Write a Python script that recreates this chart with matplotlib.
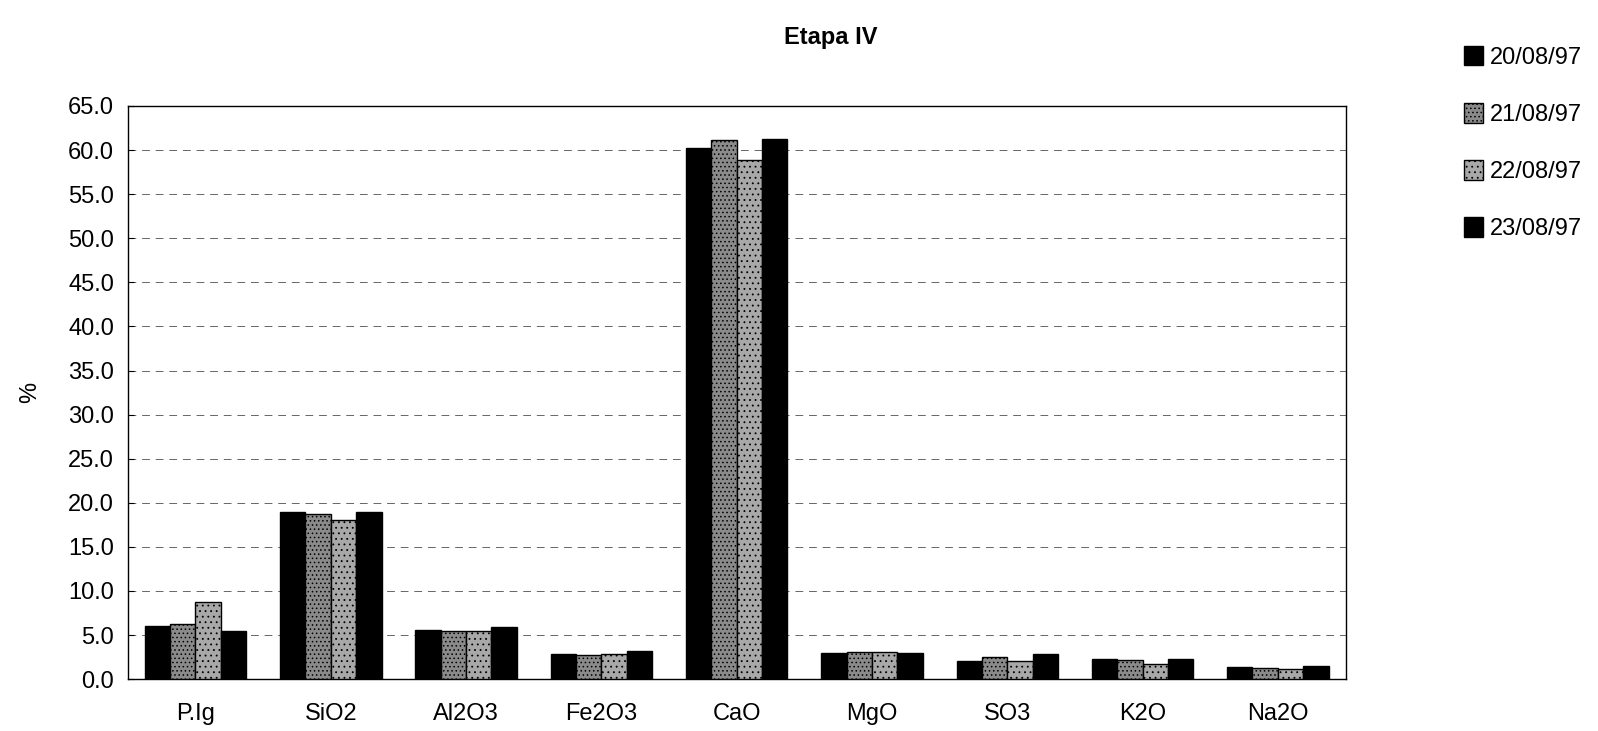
import matplotlib.pyplot as plt
import numpy as np

plt.rcParams['font.family'] = ['Liberation Sans', 'DejaVu Sans']
plt.rcParams['hatch.linewidth'] = 0.6

categorias = ['P.Ig', 'SiO2', 'Al2O3', 'Fe2O3', 'CaO', 'MgO', 'SO3', 'K2O', 'Na2O']
fechas = ['20/08/97', '21/08/97', '22/08/97', '23/08/97']

d20 = [6.0, 18.9, 5.6, 2.9, 60.2, 3.0, 2.1, 2.3, 1.4]
d21 = [6.2, 18.7, 5.5, 2.7, 61.1, 3.1, 2.5, 2.2, 1.3]
d22 = [8.7, 18.1, 5.5, 2.8, 58.9, 3.1, 2.1, 1.7, 1.2]
d23 = [5.4, 18.9, 5.9, 3.2, 61.2, 3.0, 2.9, 2.3, 1.5]
series = [d20, d21, d22, d23]

colores = ['black', '#8a8a8a', '#a8a8a8', 'black']
tramas = [None, '....', '...', None]

fig = plt.figure(figsize=(15.98, 7.31), dpi=100)
ax = fig.add_axes([0.080, 0.071, 0.762, 0.784])

x = np.arange(len(categorias))
w = 0.1875
for i, vals in enumerate(series):
    ax.bar(x + (i - 1.5) * w, vals, w, color=colores[i], edgecolor='black',
           linewidth=1.0, hatch=tramas[i], label=fechas[i], zorder=3)

ax.set_xlim(-0.5, len(categorias) - 0.5)
ax.set_ylim(0, 65)
ax.set_yticks(np.arange(0, 66, 5))
ax.set_yticklabels(['%.1f' % v for v in np.arange(0, 66, 5)], fontsize=17)
ax.set_xticks(x)
ax.set_xticklabels(categorias, fontsize=17)
ax.tick_params(axis='x', length=0, pad=17)
ax.tick_params(axis='y', length=4, direction='in', pad=10)
ax.yaxis.grid(True, color='#666666', linestyle=(0, (8, 6)), linewidth=0.7, zorder=0)

for s in ax.spines.values():
    s.set_linewidth(1.0)

ax.set_ylabel('%', fontsize=17, labelpad=19)
fig.suptitle('Etapa IV', fontsize=17, fontweight='bold', x=0.52, y=0.965)

ax.legend(loc='upper left', bbox_to_anchor=(1.08, 1.142), frameon=False,
          fontsize=17, handlelength=0.8, handleheight=0.9, handletextpad=0.3,
          labelspacing=1.45)

fig.savefig('out.png', dpi=100)
